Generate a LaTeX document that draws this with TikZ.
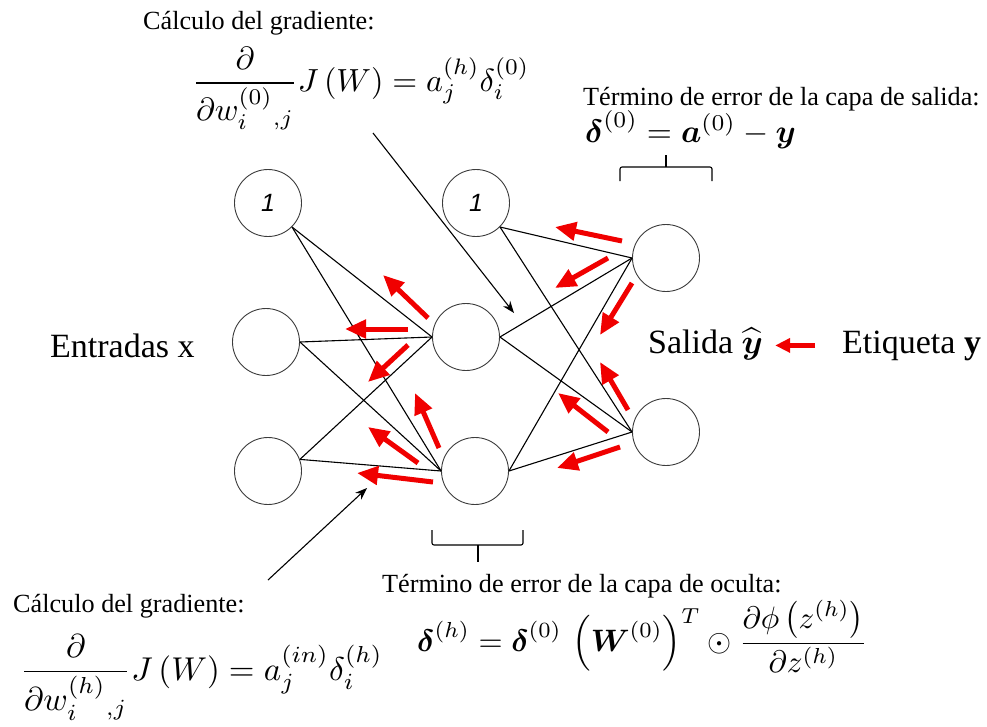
\documentclass[tikz,border=0pt]{standalone}
\usepackage{amsmath,amssymb}
\usepackage{graphicx}
\usepackage[no-math]{fontspec}
\setmainfont{Liberation Serif}
\newfontfamily\sansit{Liberation Sans}
\usetikzlibrary{arrows.meta,calc}
\definecolor{arrred}{RGB}{240,0,0}
\definecolor{ringgray}{RGB}{60,60,60}
\newcommand{\scmath}[2]{\scalebox{#1}{\normalsize$#2$}}
\begin{document}
\begin{tikzpicture}[x=1pt,y=-1pt,
  neuron/.style={circle, draw=ringgray, line width=0.9pt, minimum size=67pt, inner sep=0pt},
  biasfont/.style={font=\sansit\itshape\fontsize{25}{28}\selectfont},
  edge/.style={line width=1.1pt, black},
  redarrow/.style={draw=arrred, line width=5pt, -{Triangle[length=21pt,width=18pt]}},
  smallred/.style={draw=arrred, line width=5pt, -{Triangle[length=15pt,width=14pt]}},
  blackarrow/.style={line width=1.1pt, black, -{Stealth[length=12pt,width=9pt]}},
  bracket/.style={line width=1.1pt, black, rounded corners=2pt},
  lbl/.style={inner sep=0pt, anchor=base west, font=\fontsize{26.2}{30}\selectfont},
  biglbl/.style={inner sep=0pt, anchor=base west, font=\fontsize{34}{40}\selectfont},
  eq/.style={inner sep=0pt, anchor=base west, font=\normalsize},
]
\useasboundingbox (0,0) rectangle (987,726);

% neurons
\node[neuron, biasfont] (b1) at (268,203) {1};
\node[neuron] (x1) at (266,342) {};
\node[neuron] (x2) at (268,471) {};
\node[neuron, biasfont] (b2) at (476,203) {1};
\node[neuron] (h1) at (466,337) {};
\node[neuron] (h2) at (475,471) {};
\node[neuron] (o1) at (666,258) {};
\node[neuron] (o2) at (666,432) {};

% connections
\draw[edge] (b1.-45) -- (h1.west);
\draw[edge] (b1.-45) -- (h2.west);
\draw[edge] (x1.east) -- (h1.west);
\draw[edge] (x1.east) -- (h2.west);
\draw[edge] (x2.20) -- (h1.west);
\draw[edge] (x2.20) -- (h2.west);
\draw[edge] (b2.-45) -- (o1.west);
\draw[edge] (b2.-45) -- (o2.west);
\draw[edge] (h1.east) -- (o1.west);
\draw[edge] (h1.east) -- (o2.west);
\draw[edge] (h2.east) -- (o1.west);
\draw[edge] (h2.east) -- (o2.west);

% backpropagation arrows
\draw[redarrow] (428,318) -- (383,275);
\draw[redarrow] (408,329) -- (345,329);
\draw[redarrow] (408,345) -- (368,382);
\draw[redarrow] (439,448) -- (415,393);
\draw[redarrow] (418,463) -- (368,427);
\draw[redarrow] (433,482) -- (357,473);
\draw[redarrow] (622,241) -- (555,227);
\draw[redarrow] (608,258) -- (555,288);
\draw[redarrow] (632,283) -- (600,335);
\draw[redarrow] (628,410) -- (600,362);
\draw[redarrow] (608,432) -- (558,393);
\draw[redarrow] (620,447) -- (557,468);

% labels
\node[biglbl] (inp) at (50,357) {Entradas x};
\node[biglbl] (sal) at (648,353) {Salida \scmath{3.4}{\widehat{\boldsymbol{y}}}};
\node[biglbl] (etq) at (842,353) {Etiqueta \textbf{y}};
\draw[smallred] ([xshift=-27pt]etq.west) -- ([xshift=12pt]etq.west -| sal.east);

% gradient annotations
\node[lbl] (g1t) at (143,29) {Cálculo del gradiente:};
\node[eq] (g1) at (192,91) {\scmath{3.2}{\dfrac{\partial}{\partial w_i^{(0)}{}_{,j}}J\left(W\right)=a_j^{(h)}\delta_i^{(0)}}};
\coordinate (g1s) at (373,133);
\coordinate (g1e) at (514,313);
\draw[blackarrow] (g1s) -- (g1e);

\node[lbl] (g2t) at (13,612) {Cálculo del gradiente:};
\node[eq] (g2) at (20,680) {\scmath{3.3}{\dfrac{\partial}{\partial w_i^{(h)}{}_{,j}}J\left(W\right)=a_j^{(in)}\delta_i^{(h)}}};
\coordinate (g2s) at (268,580);
\coordinate (g2e) at (367,488);
\draw[blackarrow] (g2s) -- (g2e);

% output error term
\node[lbl] (ot) at (583,105) {Término de error de la capa de salida:};
\node[eq] (oe) at (585,142) {\scmath{3.23}{\boldsymbol{\delta}^{(0)}=\boldsymbol{a}^{(0)}-\boldsymbol{y}}};
\draw[bracket] (620,181) -- (620,167) -- (712,167) -- (712,181);
\draw[line width=1.1pt] (666,167) -- (666,155);

% hidden error term
\draw[bracket] (432,530) -- (432,545) -- (523,545) -- (523,530);
\draw[line width=1.1pt] (478,545) -- (478,562);
\node[lbl] (ht) at (382,592) {Término de error de la capa de oculta:};
\node[eq] (he) at (417,651) {\scmath{3.1}{\boldsymbol{\delta}^{(h)}=\boldsymbol{\delta}^{(0)}\,\left(\boldsymbol{W}^{(0)}\right)^{T}\odot\dfrac{\partial\phi\left(z^{(h)}\right)}{\partial z^{(h)}}}};
\end{tikzpicture}
\end{document}
